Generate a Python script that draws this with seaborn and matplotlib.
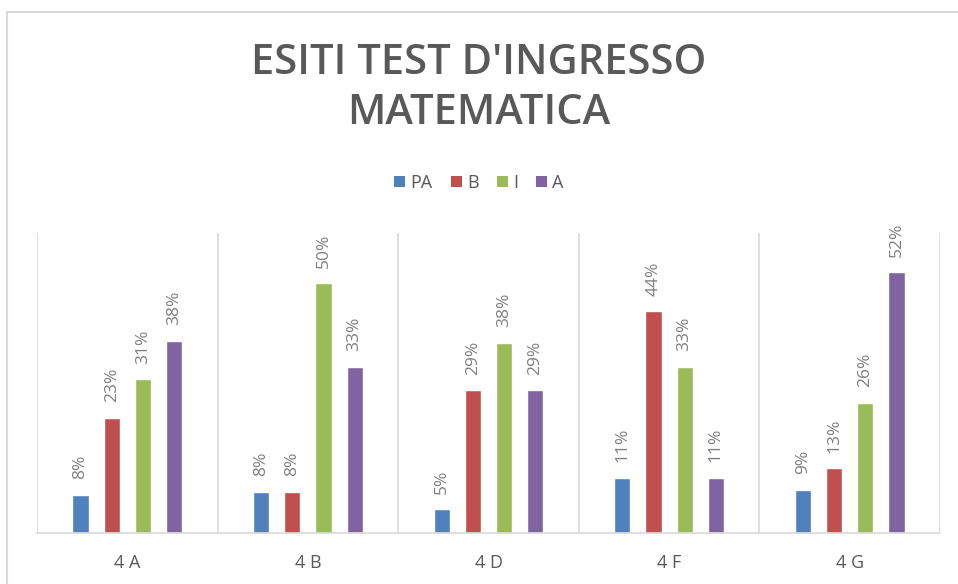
import pandas as pd
import matplotlib.pyplot as plt
import seaborn as sns
from matplotlib.lines import Line2D
from matplotlib.patches import Patch

classi = ["4A", "4B", "4D", "4F", "4G"]
etichette_classi = ["4 A", "4 B", "4 D", "4 F", "4 G"]
livelli = ["PA", "B", "I", "A"]

# percentuali per livello (PA, B, I, A) in ogni classe
pa = [7.7, 8.3, 4.8, 11.1, 8.7]
b = [23.1, 8.3, 28.6, 44.4, 13.0]
i = [30.8, 50.0, 38.1, 33.3, 26.1]
a = [38.5, 33.3, 28.6, 11.1, 52.2]

colori = ["#4F81BD", "#C0504D", "#9BBB59", "#8064A2"]
grigio = "#595959"

df = pd.DataFrame({"classe": classi, "PA": pa, "B": b, "I": i, "A": a})
df = df.melt(id_vars="classe", var_name="livello", value_name="perc")

sns.set_theme(style="white")
plt.rcParams['font.family'] = ['Open Sans', 'DejaVu Sans']

fig = plt.figure(figsize=(9.58, 5.84), dpi=100)
ax = fig.add_axes([37 / 958, 51 / 584, 903 / 958, 300 / 584])

sns.barplot(data=df, x="classe", y="perc", hue="livello", hue_order=livelli,
            order=classi, palette=colori, width=0.69, gap=0.48,
            legend=False, ax=ax, saturation=1)

for cont in ax.containers:
    ax.bar_label(cont, labels=[f"{v:.0f}%" for v in cont.datavalues],
                 rotation=90, padding=11, color="#7f7f7f", fontsize=12.5)

ax.set_ylim(0, 60)
ax.set_xlim(-0.5, len(classi) - 0.5)
ax.set_yticks([])
ax.set_xticks(range(len(classi)))
ax.set_xticklabels(etichette_classi, color=grigio, fontsize=13)
ax.tick_params(axis="x", length=0, pad=15)
ax.set_xlabel("")
ax.set_ylabel("")
for s in ["top", "right", "left"]:
    ax.spines[s].set_visible(False)
ax.spines["bottom"].set_color("#d9d9d9")
ax.spines["bottom"].set_linewidth(1.2)

for xv in [k - 0.5 for k in range(len(classi) + 1)]:
    ax.axvline(xv, color="#d9d9d9", linewidth=1.2, zorder=0)

fig.text(0.5, 1 - 63 / 584, "ESITI TEST D'INGRESSO", ha="center", va="center",
         fontsize=30, color=grigio, fontweight="semibold")
fig.text(0.5, 1 - 113 / 584, "MATEMATICA", ha="center", va="center",
         fontsize=30, color=grigio, fontweight="semibold")

maniglie = [Patch(facecolor=c, edgecolor="none") for c in colori]
fig.legend(maniglie, livelli, loc="center", bbox_to_anchor=(0.5, 1 - 183 / 584),
           ncol=4, frameon=False, fontsize=13, labelcolor=grigio,
           handlelength=0.6, handleheight=0.6, handletextpad=0.3, columnspacing=1.0)

# bordo del grafico
fig.add_artist(Line2D([7 / 958, 7 / 958], [0, 1 - 12 / 584], transform=fig.transFigure,
                      color="#d9d9d9", linewidth=1.5))
fig.add_artist(Line2D([7 / 958, 1], [1 - 12 / 584, 1 - 12 / 584], transform=fig.transFigure,
                      color="#d9d9d9", linewidth=1.5))

fig.savefig("out.png", dpi=100)
